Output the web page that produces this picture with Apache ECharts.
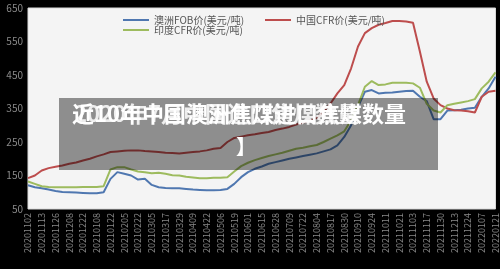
<!DOCTYPE html>
<html>
<head>
<meta charset="utf-8">
<script src="https://cdn.jsdelivr.net/npm/echarts@6/dist/echarts.min.js"></script>
<style>
  html, body { margin: 0; padding: 0; background: #000; }
  #chart { width: 500px; height: 269px; }
</style>
</head>
<body>
<div id="chart"></div>
<script>
// 日期（每隔一个显示）
const dates = [
  '20201102','20201106','20201113','20201119','20201126','20201202','20201208','20201215','20201222','20201230',
  '20210108','20210115','20210122','20210129','20210205','20210215','20210222','20210226','20210305','20210311',
  '20210317','20210323','20210329','20210402','20210409','20210416','20210422','20210429','20210506','20210513',
  '20210519','20210526','20210601','20210608','20210615','20210622','20210628','20210702','20210709','20210715',
  '20210722','20210729','20210804','20210811','20210817','20210824','20210830','20210903','20210910','20210917',
  '20210924','20210930','20211011','20211015','20211021','20211027','20211103','20211110','20211117','20211124',
  '20211130','20211207','20211213','20211217','20211224','20211231','20220107','20220114','20220121'
];

const ausFob = [
  121,115,112,108,104,101,100,99,98,97,
  97,100,140,160,155,150,138,140,122,115,
  113,112,112,110,108,107,106,106,107,110,
  125,145,160,170,177,185,190,195,200,204,
  208,212,216,222,228,240,265,300,355,400,
  405,395,397,398,400,402,403,385,372,318,
  318,344,345,346,350,352,385,410,445
];

const chinaCfr = [
  142,150,165,172,176,180,185,189,195,200,
  207,213,220,222,224,225,225,223,222,220,
  218,217,216,218,220,222,225,230,232,250,
  262,266,270,273,277,280,286,290,295,302,
  308,314,322,340,365,395,420,470,535,575,
  590,600,605,611,611,610,606,520,430,380,
  360,350,345,344,342,338,385,400,403
];

const indiaCfr = [
  132,125,118,116,115,115,115,115,116,116,
  116,118,168,175,175,168,162,160,157,158,
  155,151,150,146,144,142,142,143,143,145,
  162,178,188,196,202,208,213,218,224,230,
  233,237,241,250,260,270,282,315,360,415,
  432,420,422,427,427,427,425,412,364,344,
  338,360,364,368,372,378,410,430,458
];

const yTicks = { min: 50, max: 650, interval: 100 };
const names = ['澳洲FOB价(美元/吨)', '中国CFR价(美元/吨)', '印度CFR价(美元/吨)'];

const chart = echarts.init(document.getElementById('chart'));
const font = '"Noto Sans CJK SC", "Noto Sans", sans-serif';

chart.setOption({
  backgroundColor: '#000',
  animation: false,
  textStyle: { fontFamily: font },
  legend: [
    {
      data: [names[0], names[2]],
      orient: 'vertical',
      left: 118, top: 10,
      icon: 'rect',
      itemWidth: 26, itemHeight: 2, itemGap: 0,
      textStyle: { fontSize: 10, color: '#555', fontFamily: font }
    },
    {
      data: [names[1]],
      left: 260, top: 10,
      icon: 'rect',
      itemWidth: 26, itemHeight: 2,
      textStyle: { fontSize: 10, color: '#555', fontFamily: font }
    }
  ],
  grid: {
    left: 28, right: 4, top: 8, bottom: 60,
    show: true, backgroundColor: '#f4f4f4', borderColor: '#d8d8d8', borderWidth: 1
  },
  xAxis: {
    type: 'category',
    data: dates,
    boundaryGap: false,
    axisLine: { show: false },
    axisTick: { show: false },
    axisLabel: { interval: 1, rotate: 90, fontSize: 9, color: '#8a8a8a', margin: 4, fontFamily: font }
  },
  yAxis: {
    type: 'value',
    min: yTicks.min, max: yTicks.max, interval: yTicks.interval,
    axisLine: { show: false },
    axisTick: { show: false },
    splitLine: { show: false },
    axisLabel: { fontSize: 10, color: '#8a8a8a', margin: 5, fontFamily: font }
  },
  series: [
    { name: names[0], type: 'line', data: ausFob, symbol: 'none', lineStyle: { width: 2, color: '#4f77b0' }, itemStyle: { color: '#4f77b0' } },
    { name: names[1], type: 'line', data: chinaCfr, symbol: 'none', lineStyle: { width: 2, color: '#bd4d4d' }, itemStyle: { color: '#bd4d4d' } },
    { name: names[2], type: 'line', data: indiaCfr, symbol: 'none', lineStyle: { width: 2, color: '#9dbb5e' }, itemStyle: { color: '#9dbb5e' } }
  ],
  graphic: [
    { type: 'rect', shape: { x: 59, y: 98, width: 379, height: 72 }, style: { fill: 'rgba(0,0,0,0.42)' }, z: 100 },
    { type: 'text', left: 72, top: 103, z: 101,
      style: { text: '近10年中国澳洲焦煤进口焦煤数量', fill: '#fff', font: 'bold 22px ' + font } },
    { type: 'text', left: 74, top: 103, z: 101,
      style: { text: '2020年7月中国进口焦煤数量', fill: 'rgba(255,255,255,0.85)', font: 'bold 22px ' + font } },
    { type: 'text', left: 236, top: 136, z: 101,
      style: { text: '】', fill: '#fff', font: 'bold 20px ' + font } }
  ]
});
</script>
</body>
</html>
